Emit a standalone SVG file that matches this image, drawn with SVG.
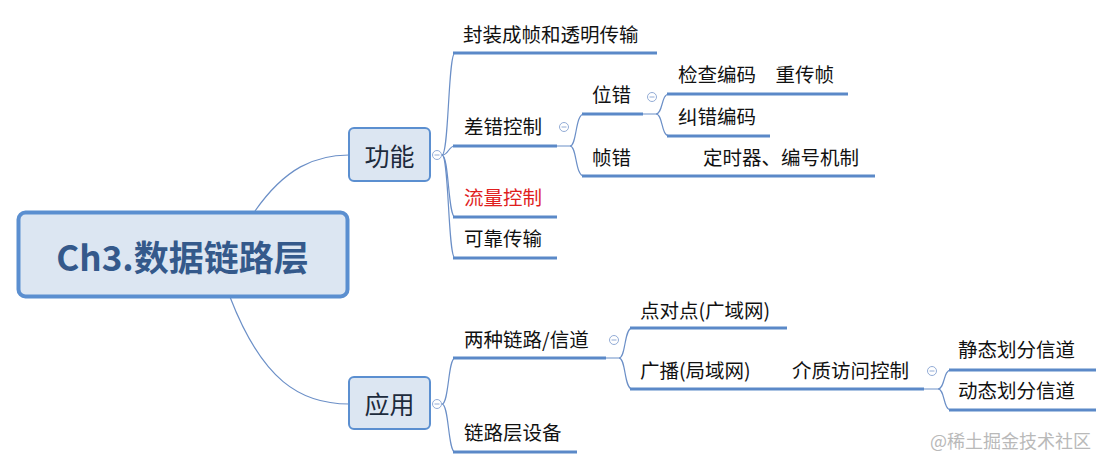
<svg xmlns="http://www.w3.org/2000/svg" width="1107" height="468" viewBox="0 0 1107 468">
<style>
text{font-family:"Noto Sans CJK SC","Microsoft YaHei",sans-serif;fill:#111}
.t{font-size:19.5px}
.conn path{fill:none;stroke:#6b8fc7;stroke-width:1.2}
.ul{stroke:#5b89c8;stroke-width:3;stroke-linecap:butt}
.box{fill:#dce6f2;stroke:#5b8fd0;stroke-width:2}
.col circle{fill:#fff;stroke:#93acd6;stroke-width:1}
.col line{stroke:#93acd6;stroke-width:1}
</style>
<rect width="1107" height="468" fill="#fff"/>
<g id="connectors" class="conn">
<path d="M255,211 C285,168 315,155 349,155"/>
<path d="M230,297 C262,380 300,404 349,404"/>
<path d="M442,155 C449,155 448,53 455,53"/>
<path d="M442,155 C449,155 448,146 455,146"/>
<path d="M442,155 C449,155 448,217 455,217"/>
<path d="M442,155 C449,155 448,258 455,258"/>
<path d="M557,146 L570,146 C577,146 575,114 584,114"/>
<path d="M570,146 C577,146 575,176 584,176"/>
<path d="M643,114 L656,114 C663,114 661,94 669,94"/>
<path d="M656,114 C663,114 661,136 669,136"/>
<path d="M442,404 C449,404 448,358 455,358"/>
<path d="M442,404 C449,404 448,452 455,452"/>
<path d="M606,358 L619,358 C626,358 624,328 632,328"/>
<path d="M619,358 C626,358 624,389 632,389"/>
<path d="M924,389 L938,389 C945,389 943,370 951,370"/>
<path d="M938,389 C945,389 943,410 951,410"/>
</g>
<g id="root">
<rect x="18.5" y="212.5" width="329" height="84" rx="7" fill="#dce6f2" stroke="#5b8fd0" stroke-width="4"/>
<text x="182.5" y="271" text-anchor="middle" font-size="35" font-weight="bold" style="fill:#34598b">Ch3.数据链路层</text>
</g>
<g id="gongneng">
<rect class="box" x="349" y="128" width="81" height="53" rx="5"/>
<text x="389.5" y="166" text-anchor="middle" font-size="25" style="fill:#1d2b3d">功能</text>
</g>
<g id="yingyong">
<rect class="box" x="349" y="377" width="81" height="52" rx="5"/>
<text x="389.5" y="414" text-anchor="middle" font-size="25" style="fill:#1d2b3d">应用</text>
</g>
<g class="col" id="collapse">
<circle cx="437" cy="155" r="4.5"/><line x1="434.5" y1="155" x2="439.5" y2="155"/>
<circle cx="437" cy="404" r="4.5"/><line x1="434.5" y1="404" x2="439.5" y2="404"/>
<circle cx="564" cy="127" r="4.5"/><line x1="561.5" y1="127" x2="566.5" y2="127"/>
<circle cx="652" cy="97" r="4.5"/><line x1="649.5" y1="97" x2="654.5" y2="97"/>
<circle cx="614" cy="340" r="4.5"/><line x1="611.5" y1="340" x2="616.5" y2="340"/>
<circle cx="932" cy="371" r="4.5"/><line x1="929.5" y1="371" x2="934.5" y2="371"/>
</g>
<g id="n-fengzhuang"><text class="t" x="463" y="42">封装成帧和透明传输</text><line class="ul" x1="453" y1="53" x2="657" y2="53"/></g>
<g id="n-chacuo"><text class="t" x="464" y="134">差错控制</text><line class="ul" x1="453" y1="146" x2="557" y2="146"/></g>
<g id="n-liuliang"><text class="t" x="464" y="205" style="fill:#e01e1e">流量控制</text><line class="ul" x1="453" y1="217" x2="557" y2="217"/></g>
<g id="n-kekao"><text class="t" x="464" y="246">可靠传输</text><line class="ul" x1="453" y1="258" x2="557" y2="258"/></g>
<g id="n-weicuo"><text class="t" x="592" y="102">位错</text><line class="ul" x1="582" y1="114" x2="643" y2="114"/></g>
<g id="n-zhencuo"><text class="t" x="592" y="165">帧错<tspan x="703">定时器、编号机制</tspan></text><line class="ul" x1="582" y1="176" x2="875" y2="176"/></g>
<g id="n-jiancha"><text class="t" x="678" y="82">检查编码　重传帧</text><line class="ul" x1="667" y1="94" x2="848" y2="94"/></g>
<g id="n-jiucuo"><text class="t" x="678" y="124">纠错编码</text><line class="ul" x1="667" y1="136" x2="770" y2="136"/></g>
<g id="n-liangzhong"><text class="t" x="464" y="347">两种链路/信道</text><line class="ul" x1="453" y1="358" x2="606" y2="358"/></g>
<g id="n-lianluceng"><text class="t" x="464" y="440">链路层设备</text><line class="ul" x1="453" y1="452" x2="577" y2="452"/></g>
<g id="n-diandui"><text class="t" x="640" y="318">点对点(广域网)</text><line class="ul" x1="630" y1="328" x2="787" y2="328"/></g>
<g id="n-guangbo"><text class="t" x="640" y="378">广播(局域网)<tspan x="792">介质访问控制</tspan></text><line class="ul" x1="630" y1="389" x2="924" y2="389"/></g>
<g id="n-jingtai"><text class="t" x="958" y="357">静态划分信道</text><line class="ul" x1="949" y1="370" x2="1096" y2="370"/></g>
<g id="n-dongtai"><text class="t" x="958" y="398">动态划分信道</text><line class="ul" x1="949" y1="410" x2="1096" y2="410"/></g>
<text x="930" y="448" font-size="18" style="fill:#b9b9b9">@稀土掘金技术社区</text>
</svg>
